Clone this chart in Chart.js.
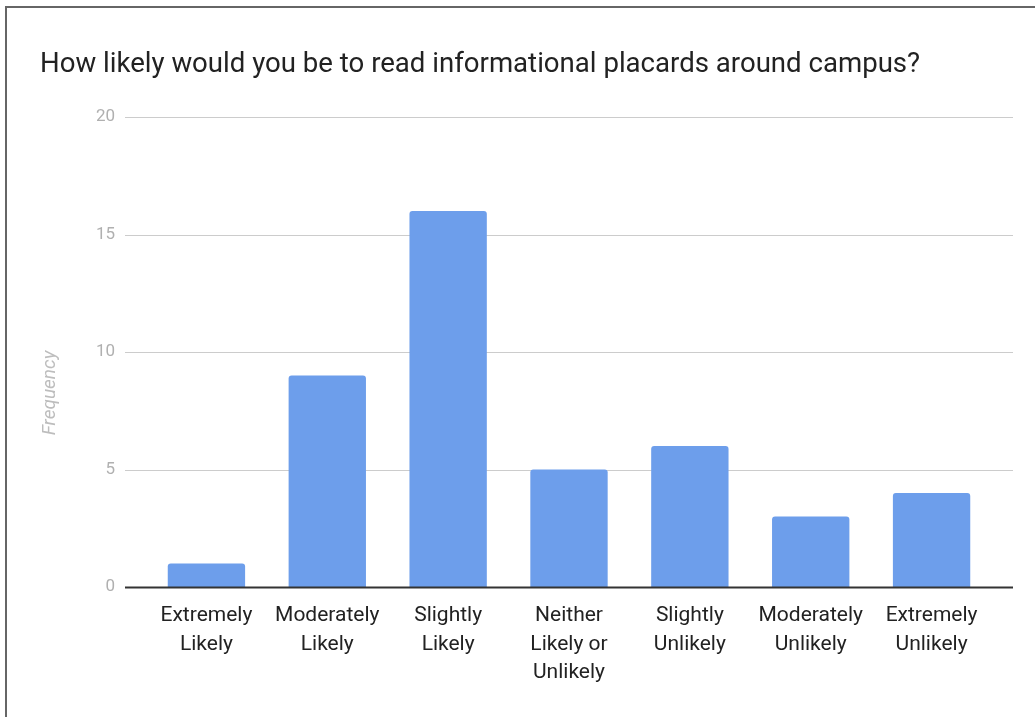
<!DOCTYPE html>
<html>
<head>
<meta charset="utf-8">
<script src="https://cdn.jsdelivr.net/npm/chart.js@4.4.1/dist/chart.umd.min.js"></script>
<style>
  html, body { margin: 0; padding: 0; background: #fff; overflow: hidden; }
  #wrap { position: relative; width: 1035px; height: 717px; }
  #frame { position: absolute; left: 5px; top: 6px; width: 1100px; height: 800px;
           border: 2px solid #666; pointer-events: none; }
</style>
</head>
<body>
<div id="wrap">
  <canvas id="barchart" width="1035" height="717"></canvas>
  <div id="frame"></div>
</div>
<script>
var chartTitle = 'How likely would you be to read informational placards around campus?';
var axisTitle = 'Frequency';
var categories = [
  ['Extremely', 'Likely'],
  ['Moderately', 'Likely'],
  ['Slightly', 'Likely'],
  ['Neither', 'Likely or', 'Unlikely'],
  ['Slightly', 'Unlikely'],
  ['Moderately', 'Unlikely'],
  ['Extremely', 'Unlikely']
];
var frequency = [1, 9, 16, 5, 6, 3, 4];
var yTicks = [0, 5, 10, 15, 20];

// google-style gridlines that run a bit past the bar area
var gridPlugin = {
  id: 'wideGrid',
  beforeDatasetsDraw: function(chart) {
    var ctx = chart.ctx, y = chart.scales.y, area = chart.chartArea;
    ctx.save();
    ctx.strokeStyle = '#cccccc';
    ctx.lineWidth = 1;
    y.ticks.forEach(function(t) {
      if (t.value === 0) return;
      var py = Math.round(y.getPixelForValue(t.value)) + 0.5;
      ctx.beginPath();
      ctx.moveTo(area.left - 21, py);
      ctx.lineTo(area.right + 21, py);
      ctx.stroke();
    });
    ctx.restore();
  },
  afterDatasetsDraw: function(chart) {
    var ctx = chart.ctx, y = chart.scales.y, area = chart.chartArea;
    var py = Math.round(y.getPixelForValue(0)) + 0.5;
    ctx.save();
    ctx.strokeStyle = '#333333';
    ctx.lineWidth = 2;
    ctx.beginPath();
    ctx.moveTo(area.left - 21, py);
    ctx.lineTo(area.right + 21, py);
    ctx.stroke();
    // y axis title
    ctx.translate(50, 393);
    ctx.rotate(-Math.PI / 2);
    ctx.font = 'italic 19px Roboto';
    ctx.fillStyle = '#bdbdbd';
    ctx.textAlign = 'center';
    ctx.textBaseline = 'middle';
    ctx.fillText(axisTitle, 0, 0);
    ctx.restore();
  }
};

var ctx = document.getElementById('barchart');
var barGraph = new Chart(ctx, {
  type: 'bar',
  data: {
    labels: categories,
    datasets: [{
      label: axisTitle,
      data: frequency,
      backgroundColor: '#6d9eeb',
      borderWidth: 0,
      borderRadius: { topLeft: 3, topRight: 3, bottomLeft: 0, bottomRight: 0 },
      borderSkipped: false,
      barPercentage: 0.64,
      categoryPercentage: 1
    }]
  },
  options: {
    responsive: false,
    animation: false,
    layout: { padding: { left: 40, right: 43, top: 0, bottom: 0 } },
    plugins: {
      legend: { display: false },
      tooltip: { enabled: false },
      title: {
        display: true,
        text: chartTitle,
        align: 'start',
        color: '#222',
        font: { family: 'Roboto', size: 27.6, weight: 'normal', lineHeight: 1.2 },
        padding: { top: 48.5, bottom: 35.4 }
      }
    },
    scales: {
      x: {
        grid: { display: false, drawTicks: false },
        border: { display: false },
        ticks: {
          color: '#222',
          font: { family: 'Roboto', size: 21, lineHeight: 1.35 },
          padding: 15,
          maxRotation: 0,
          autoSkip: false
        },
        afterFit: function(scale) { scale.height = 130; }
      },
      y: {
        min: 0,
        max: 20,
        afterBuildTicks: function(scale) {
          scale.ticks = yTicks.map(function(v) { return { value: v }; });
        },
        grid: { display: false, drawTicks: false },
        border: { display: false },
        ticks: {
          color: '#b0b0b0',
          font: { family: 'Roboto', size: 17 },
          padding: 31
        },
        afterFit: function(scale) { scale.width = 106; }
      }
    }
  },
  plugins: [gridPlugin]
});
</script>
</body>
</html>
